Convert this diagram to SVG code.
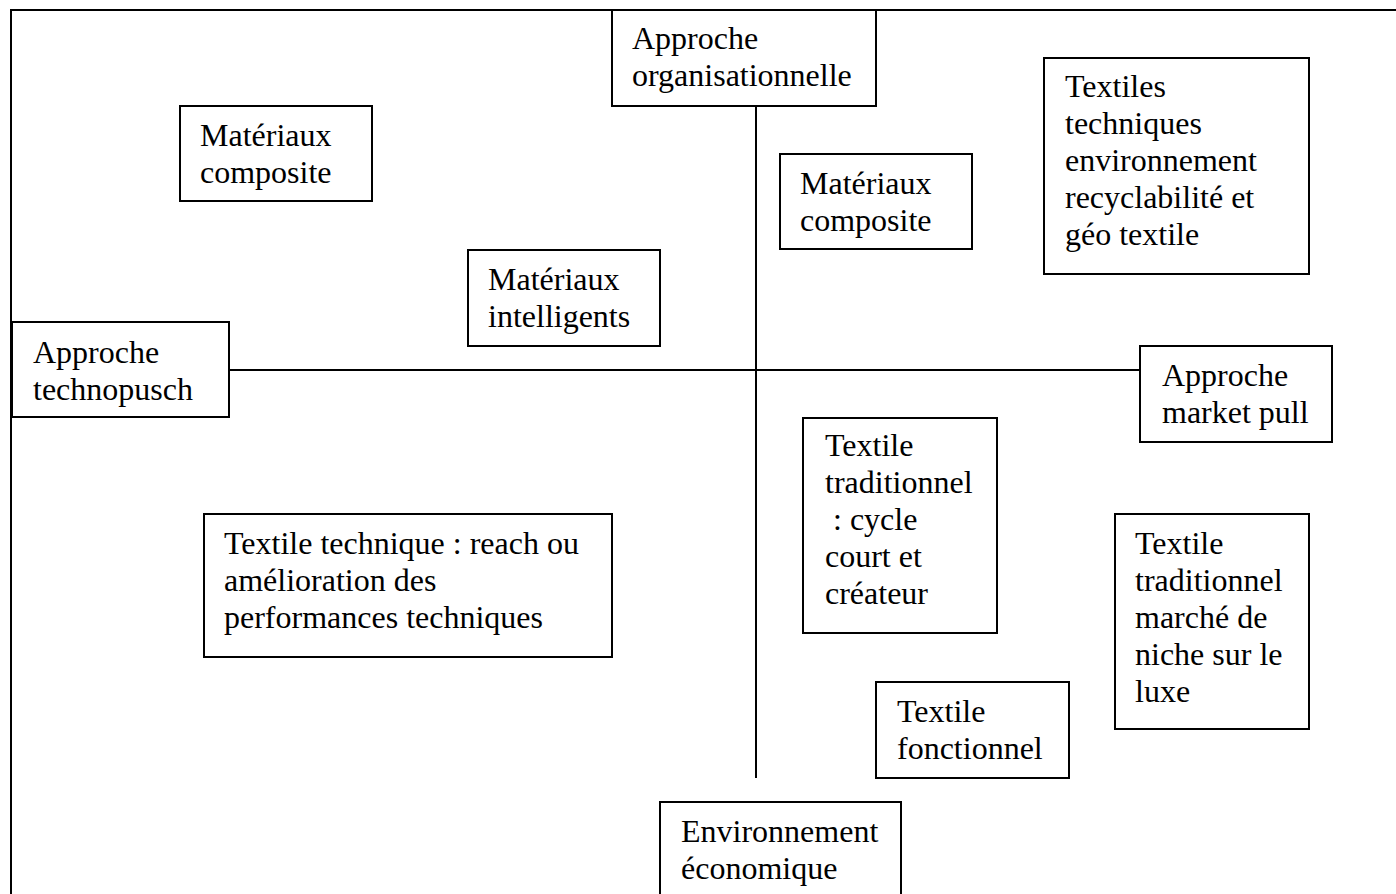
<svg xmlns="http://www.w3.org/2000/svg" width="1396" height="894" viewBox="0 0 1396 894">
  <style>
    .box { fill: #fff; stroke: #000; stroke-width: 2; }
    .axis { stroke: #000; stroke-width: 2; fill: none; }
    text { font-family: "Liberation Serif", "Times New Roman", serif; font-size: 32px; fill: #000; }
  </style>
  <rect width="1396" height="894" fill="#fff"/>

  <!-- outer frame -->
  <path class="axis" d="M11,894 V10 H1396"/>

  <!-- axes -->
  <g id="connectors">
    <line class="axis" x1="756" y1="106" x2="756" y2="778"/>
    <line class="axis" x1="229" y1="370" x2="1140" y2="370"/>
  </g>

  <g id="approche-organisationnelle">
    <rect class="box" x="612" y="10" width="264" height="96"/>
    <text x="632" y="49">Approche</text>
    <text x="632" y="86">organisationnelle</text>
  </g>

  <g id="approche-technopusch">
    <rect class="box" x="12" y="322" width="217" height="95"/>
    <text x="33" y="363">Approche</text>
    <text x="33" y="400">technopusch</text>
  </g>

  <g id="approche-market-pull">
    <rect class="box" x="1140" y="346" width="192" height="96"/>
    <text x="1162" y="386">Approche</text>
    <text x="1162" y="423">market pull</text>
  </g>

  <g id="environnement-economique">
    <rect class="box" x="660" y="802" width="241" height="110"/>
    <text x="681" y="842">Environnement</text>
    <text x="681" y="879">économique</text>
  </g>

  <g id="materiaux-composite-gauche">
    <rect class="box" x="180" y="106" width="192" height="95"/>
    <text x="200" y="146">Matériaux</text>
    <text x="200" y="183">composite</text>
  </g>

  <g id="materiaux-intelligents">
    <rect class="box" x="468" y="250" width="192" height="96"/>
    <text x="488" y="290">Matériaux</text>
    <text x="488" y="327">intelligents</text>
  </g>

  <g id="materiaux-composite-droite">
    <rect class="box" x="780" y="154" width="192" height="95"/>
    <text x="800" y="194">Matériaux</text>
    <text x="800" y="231">composite</text>
  </g>

  <g id="textiles-techniques-environnement">
    <rect class="box" x="1044" y="58" width="265" height="216"/>
    <text x="1065" y="97">Textiles</text>
    <text x="1065" y="134">techniques</text>
    <text x="1065" y="171">environnement</text>
    <text x="1065" y="208">recyclabilité et</text>
    <text x="1065" y="245">géo textile</text>
  </g>

  <g id="textile-technique-reach">
    <rect class="box" x="204" y="514" width="408" height="143"/>
    <text x="224" y="554">Textile technique : reach ou</text>
    <text x="224" y="591">amélioration des</text>
    <text x="224" y="628">performances techniques</text>
  </g>

  <g id="textile-traditionnel-cycle-court">
    <rect class="box" x="803" y="418" width="194" height="215"/>
    <text x="825" y="456">Textile</text>
    <text x="825" y="493">traditionnel</text>
    <text x="825" y="530" xml:space="preserve"> : cycle</text>
    <text x="825" y="567">court et</text>
    <text x="825" y="604">créateur</text>
  </g>

  <g id="textile-traditionnel-luxe">
    <rect class="box" x="1115" y="514" width="194" height="215"/>
    <text x="1135" y="554">Textile</text>
    <text x="1135" y="591">traditionnel</text>
    <text x="1135" y="628">marché de</text>
    <text x="1135" y="665">niche sur le</text>
    <text x="1135" y="702">luxe</text>
  </g>

  <g id="textile-fonctionnel">
    <rect class="box" x="876" y="682" width="193" height="96"/>
    <text x="897" y="722">Textile</text>
    <text x="897" y="759">fonctionnel</text>
  </g>
</svg>
